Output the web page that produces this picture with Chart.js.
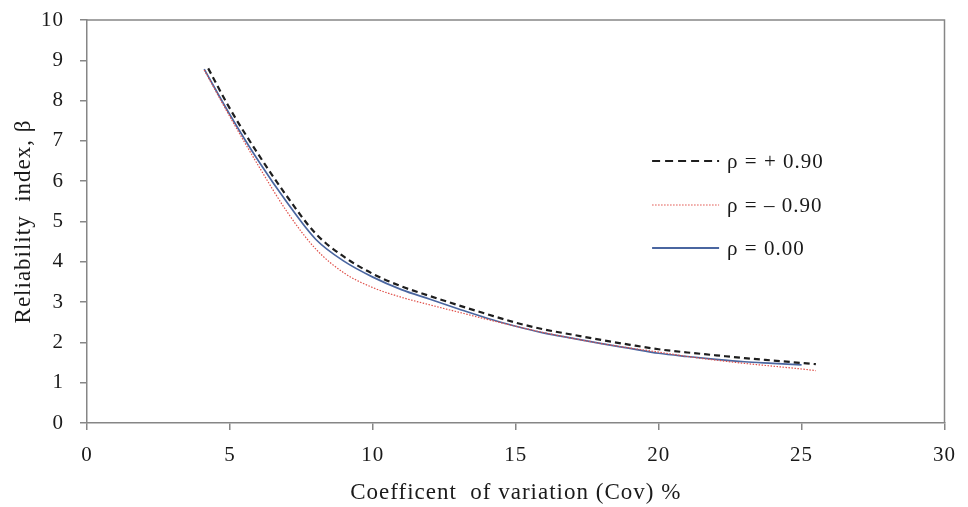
<!DOCTYPE html>
<html>
<head>
<meta charset="utf-8">
<script src="https://cdn.jsdelivr.net/npm/chart.js@4/dist/chart.umd.min.js"></script>
<style>
  html, body { margin: 0; padding: 0; background: #ffffff; }
  #wrap { width: 968px; height: 507px; position: relative; }
</style>
</head>
<body>
<div id="wrap"><canvas id="c" width="968" height="507"></canvas></div>
<script>
// ---- data ----
const seriesLabels = ['\u03C1 = + 0.90', '\u03C1 = \u2013 0.90', '\u03C1 = 0.00'];

const covPlus  = [4.24, 5, 6, 7, 8, 9, 10, 11, 12, 13, 14, 15, 16, 17, 18, 19, 20, 21, 22, 23, 24, 25, 25.5];
const betaPlus = [8.80, 7.80, 6.66, 5.62, 4.70, 4.12, 3.70, 3.39, 3.15, 2.92, 2.70, 2.49, 2.32, 2.19, 2.06, 1.94, 1.83, 1.75, 1.68, 1.61, 1.55, 1.49, 1.46];

const covMinus  = [4.1, 5, 6, 7, 8, 9, 10, 11, 12, 13, 14, 15, 16, 17, 18, 19, 20, 21, 22, 23, 24, 25, 25.5];
const betaMinus = [8.76, 7.60, 6.38, 5.24, 4.32, 3.72, 3.36, 3.12, 2.93, 2.75, 2.57, 2.40, 2.24, 2.10, 1.97, 1.86, 1.76, 1.65, 1.56, 1.48, 1.41, 1.34, 1.30];

const covZero  = [4.1, 5, 6, 7, 8, 9, 10, 11, 12, 13, 14, 15, 16, 17, 18, 19, 20, 21, 22, 23, 24, 25];
const betaZero = [8.78, 7.65, 6.50, 5.47, 4.56, 4.01, 3.62, 3.31, 3.07, 2.83, 2.60, 2.40, 2.23, 2.10, 1.97, 1.85, 1.73, 1.65, 1.58, 1.52, 1.48, 1.44];

const xTicks = [0, 5, 10, 15, 20, 25, 30];
const yTicks = [0, 1, 2, 3, 4, 5, 6, 7, 8, 9, 10];

const xTitle = 'Coefficent  of variation (Cov) %';
const yTitle = 'Reliability  index, \u03B2';

// ---- helpers ----
const pts = (xs, ys) => xs.map((x, i) => ({ x: x, y: ys[i] }));
const AXIS = '#868686';
const TEXT = '#1a1a1a';
const FONT = "'Liberation Serif', 'Times New Roman', serif";

const spacing = {
  id: 'spacing',
  beforeDraw(chart) { chart.ctx.letterSpacing = '1px'; }
};

const plotBorder = {
  id: 'plotBorder',
  beforeDatasetsDraw(chart) {
    const a = chart.chartArea, ctx = chart.ctx;
    ctx.save();
    ctx.strokeStyle = AXIS;
    ctx.lineWidth = 1.5;
    ctx.beginPath();
    ctx.moveTo(a.left, a.top);
    ctx.lineTo(a.right, a.top);
    ctx.lineTo(a.right, a.bottom);
    ctx.stroke();
    ctx.restore();
  }
};

const innerLegend = {
  id: 'innerLegend',
  afterDraw(chart) {
    const ctx = chart.ctx;
    const a = chart.chartArea;
    const x0 = a.left + (a.right - a.left) * 0.659;
    const len = 67;
    const rows = [161, 205, 248];
    ctx.save();
    chart.data.datasets.forEach((ds, i) => {
      const y = rows[i];
      ctx.strokeStyle = ds.borderColor;
      ctx.lineWidth = ds.legendWidth || ds.borderWidth;
      ctx.setLineDash(ds.legendDash || ds.borderDash || []);
      ctx.beginPath();
      ctx.moveTo(x0, y);
      ctx.lineTo(x0 + len, y);
      ctx.stroke();
      ctx.setLineDash([]);
      ctx.fillStyle = TEXT;
      ctx.font = '21px ' + FONT;
      ctx.letterSpacing = '1px';
      ctx.textBaseline = 'middle';
      ctx.textAlign = 'left';
      ctx.fillText(ds.label, x0 + len + 8, y + 1);
    });
    ctx.restore();
  }
};

new Chart(document.getElementById('c'), {
  type: 'line',
  data: {
    datasets: [
      {
        label: seriesLabels[0],
        data: pts(covPlus, betaPlus),
        borderColor: '#1e1e1e',
        borderWidth: 2.2,
        borderDash: [6, 4],
        legendDash: [8, 5],
        pointRadius: 0,
        fill: false,
        cubicInterpolationMode: 'monotone'
      },
      {
        label: seriesLabels[1],
        data: pts(covMinus, betaMinus),
        borderColor: '#e0504a',
        borderWidth: 1.2,
        borderDash: [1.5, 1.5],
        pointRadius: 0,
        fill: false,
        cubicInterpolationMode: 'monotone'
      },
      {
        label: seriesLabels[2],
        data: pts(covZero, betaZero),
        borderColor: '#4a66a0',
        borderWidth: 1.7,
        legendWidth: 2,
        pointRadius: 0,
        fill: false,
        cubicInterpolationMode: 'monotone'
      }
    ]
  },
  options: {
    responsive: false,
    animation: false,
    devicePixelRatio: 1,
    layout: { padding: { left: 0, right: 18, top: 20, bottom: 0 } },
    plugins: {
      legend: { display: false },
      tooltip: { enabled: false }
    },
    scales: {
      x: {
        type: 'linear',
        min: 0, max: 30,
        afterBuildTicks: s => { s.ticks = xTicks.map(v => ({ value: v })); },
        afterFit: s => { s.height = 84; },
        border: { display: true, color: AXIS, width: 1.5 },
        grid: { display: true, drawOnChartArea: false, drawTicks: true, tickLength: 7, color: AXIS, tickColor: AXIS, lineWidth: 1.5 },
        ticks: { color: TEXT, font: { family: FONT, size: 21 }, padding: 13, maxRotation: 0 },
        title: { display: true, text: xTitle, color: TEXT, font: { family: FONT, size: 23 }, padding: { top: 0, bottom: 0 } }
      },
      y: {
        type: 'linear',
        min: 0, max: 10,
        afterBuildTicks: s => { s.ticks = yTicks.map(v => ({ value: v })); },
        afterFit: s => { s.width = 87; s.paddingTop = 12; s.paddingBottom = 12; },
        border: { display: true, color: AXIS, width: 1.5 },
        grid: { display: true, drawOnChartArea: false, drawTicks: true, tickLength: 7, color: AXIS, tickColor: AXIS, lineWidth: 1.5 },
        ticks: { color: TEXT, font: { family: FONT, size: 21 }, padding: 16 },
        title: { display: true, text: yTitle, color: TEXT, font: { family: FONT, size: 23 }, padding: { top: 10, bottom: 0 } }
      }
    }
  },
  plugins: [spacing, plotBorder, innerLegend]
});
</script>
</body>
</html>
